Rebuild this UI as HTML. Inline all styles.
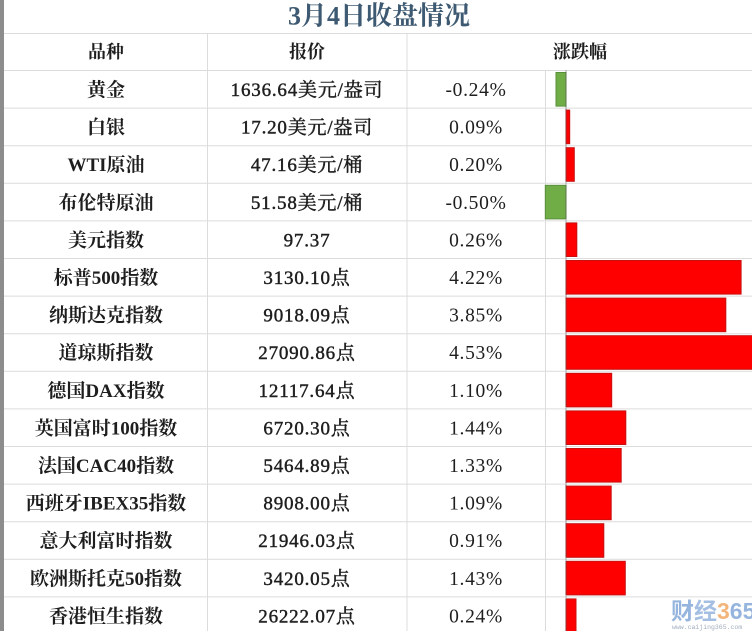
<!DOCTYPE html>
<html><head><meta charset="utf-8"><style>
html,body{margin:0;padding:0;background:#fff;}
svg{display:block;}
.c1{font-family:"Liberation Serif","Noto Serif CJK SC",serif;font-size:19px;font-weight:700;fill:#1e1e1e;text-anchor:middle;}
.c2{font-family:"Liberation Serif","Noto Serif CJK SC",serif;font-size:19px;font-weight:400;fill:#1e1e1e;stroke:#1e1e1e;stroke-width:0.45px;text-anchor:middle;letter-spacing:0.8px;}
.c3{font-family:"Liberation Serif","Noto Serif CJK SC",serif;font-size:19.5px;font-weight:400;fill:#1e1e1e;text-anchor:middle;letter-spacing:0.7px;}
.h{font-family:"Liberation Serif","Noto Serif CJK SC",serif;font-size:18px;font-weight:700;fill:#1e1e1e;text-anchor:middle;}
.t{font-family:"Liberation Serif","Noto Serif CJK SC",serif;font-size:26px;font-weight:700;fill:#3d5a72;text-anchor:middle;}
.r{fill:#ff0000;stroke:#c81010;stroke-width:1;}
.g{fill:#70ad47;stroke:#5a8f3a;stroke-width:1;}
</style></head><body>
<svg width="752" height="631" viewBox="0 0 752 631" xmlns="http://www.w3.org/2000/svg">
<rect x="0" y="0" width="752" height="631" fill="#fff"/>
<rect x="0" y="0" width="4" height="631" fill="#8c8c8c"/>
<!-- title -->
<text class="t" x="379" y="24.5">3月4日收盘情况</text>
<!-- grid lines -->
<g stroke="#dcdcdc" stroke-width="1">
<line x1="4" y1="33.5" x2="752" y2="33.5"/>
<line x1="4" y1="70.5" x2="752" y2="70.5"/>
<line x1="4" y1="108.1" x2="752" y2="108.1"/>
<line x1="4" y1="145.7" x2="752" y2="145.7"/>
<line x1="4" y1="183.3" x2="752" y2="183.3"/>
<line x1="4" y1="220.9" x2="752" y2="220.9"/>
<line x1="4" y1="258.5" x2="752" y2="258.5"/>
<line x1="4" y1="296.1" x2="752" y2="296.1"/>
<line x1="4" y1="333.7" x2="752" y2="333.7"/>
<line x1="4" y1="371.3" x2="752" y2="371.3"/>
<line x1="4" y1="408.9" x2="752" y2="408.9"/>
<line x1="4" y1="446.5" x2="752" y2="446.5"/>
<line x1="4" y1="484.1" x2="752" y2="484.1"/>
<line x1="4" y1="521.7" x2="752" y2="521.7"/>
<line x1="4" y1="559.3" x2="752" y2="559.3"/>
<line x1="4" y1="596.9" x2="752" y2="596.9"/>
<line x1="207.5" y1="33.5" x2="207.5" y2="631"/>
<line x1="407" y1="33.5" x2="407" y2="631"/>
<line x1="545.5" y1="70.5" x2="545.5" y2="631"/>
</g>
<!-- header -->
<text class="h" x="106" y="58">品种</text>
<text class="h" x="307" y="58">报价</text>
<text class="h" x="580" y="58">涨跌幅</text>
<!-- bars -->
<rect class="g" x="556" y="72.5" width="10" height="33.6"/>
<rect class="r" x="566" y="110.1" width="3.7" height="33.6"/>
<rect class="r" x="566" y="147.7" width="8.3" height="33.6"/>
<rect class="g" x="545.3" y="185.3" width="20.7" height="33.6"/>
<rect class="r" x="566" y="222.9" width="10.8" height="33.6"/>
<rect class="r" x="566" y="260.5" width="175.1" height="33.6"/>
<rect class="r" x="566" y="298.1" width="159.8" height="33.6"/>
<rect class="r" x="566" y="335.7" width="190" height="33.6"/>
<rect class="r" x="566" y="373.3" width="45.7" height="33.6"/>
<rect class="r" x="566" y="410.9" width="59.8" height="33.6"/>
<rect class="r" x="566" y="448.5" width="55.2" height="33.6"/>
<rect class="r" x="566" y="486.1" width="45.2" height="33.6"/>
<rect class="r" x="566" y="523.7" width="37.8" height="33.6"/>
<rect class="r" x="566" y="561.3" width="59.3" height="33.6"/>
<rect class="r" x="566" y="598.9" width="10" height="33.6"/>
<line x1="566" y1="70.5" x2="566" y2="631" stroke="#555" stroke-width="1" stroke-dasharray="1,1"/>
<!-- rows -->
<g>
<text class="c1" x="106" y="96">黄金</text><text class="c2" x="307" y="96">1636.64美元/盎司</text><text class="c3" x="476" y="96">-0.24%</text>
<text class="c1" x="106" y="133.6">白银</text><text class="c2" x="307" y="133.6">17.20美元/盎司</text><text class="c3" x="476" y="133.6">0.09%</text>
<text class="c1" x="106" y="171.2">WTI原油</text><text class="c2" x="307" y="171.2">47.16美元/桶</text><text class="c3" x="476" y="171.2">0.20%</text>
<text class="c1" x="106" y="208.8">布伦特原油</text><text class="c2" x="307" y="208.8">51.58美元/桶</text><text class="c3" x="476" y="208.8">-0.50%</text>
<text class="c1" x="106" y="246.4">美元指数</text><text class="c2" x="307" y="246.4">97.37</text><text class="c3" x="476" y="246.4">0.26%</text>
<text class="c1" x="106" y="284">标普500指数</text><text class="c2" x="307" y="284">3130.10点</text><text class="c3" x="476" y="284">4.22%</text>
<text class="c1" x="106" y="321.6">纳斯达克指数</text><text class="c2" x="307" y="321.6">9018.09点</text><text class="c3" x="476" y="321.6">3.85%</text>
<text class="c1" x="106" y="359.2">道琼斯指数</text><text class="c2" x="307" y="359.2">27090.86点</text><text class="c3" x="476" y="359.2">4.53%</text>
<text class="c1" x="106" y="396.8">德国DAX指数</text><text class="c2" x="307" y="396.8">12117.64点</text><text class="c3" x="476" y="396.8">1.10%</text>
<text class="c1" x="106" y="434.4">英国富时100指数</text><text class="c2" x="307" y="434.4">6720.30点</text><text class="c3" x="476" y="434.4">1.44%</text>
<text class="c1" x="106" y="472">法国CAC40指数</text><text class="c2" x="307" y="472">5464.89点</text><text class="c3" x="476" y="472">1.33%</text>
<text class="c1" x="106" y="509.6">西班牙IBEX35指数</text><text class="c2" x="307" y="509.6">8908.00点</text><text class="c3" x="476" y="509.6">1.09%</text>
<text class="c1" x="106" y="547.2">意大利富时指数</text><text class="c2" x="307" y="547.2">21946.03点</text><text class="c3" x="476" y="547.2">0.91%</text>
<text class="c1" x="106" y="584.8">欧洲斯托克50指数</text><text class="c2" x="307" y="584.8">3420.05点</text><text class="c3" x="476" y="584.8">1.43%</text>
<text class="c1" x="106" y="622.4">香港恒生指数</text><text class="c2" x="307" y="622.4">26222.07点</text><text class="c3" x="476" y="622.4">0.24%</text>
</g>
<!-- watermark -->
<text x="671" y="619" font-family="'Liberation Sans','Noto Sans CJK SC',sans-serif" font-size="23" font-weight="700" opacity="0.8"><tspan fill="#7da3d6">财</tspan><tspan fill="#8fb0dc">经</tspan><tspan fill="#f0a45c">3</tspan><tspan fill="#7da3d6">65</tspan></text>
<text x="672" y="629" font-family="'Liberation Mono',monospace" font-size="6.5" fill="#8a9aae" opacity="0.8">www.caijing365.com</text>
</svg>
</body></html>
